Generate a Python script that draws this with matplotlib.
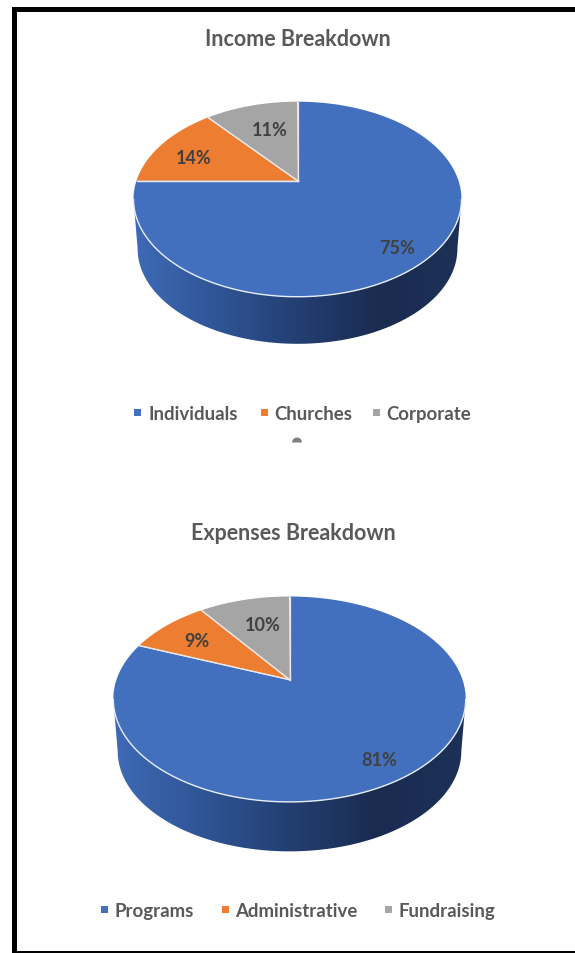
"""Income / expenses breakdown, two 3D-look pies drawn in pixel coordinates."""
import numpy as np
import matplotlib
matplotlib.use("Agg")
import matplotlib.pyplot as plt
from matplotlib.colors import LinearSegmentedColormap
from matplotlib.patches import Polygon, Rectangle, Wedge

W, H = 575, 954
plt.rcParams["font.family"] = ["Lato", "DejaVu Sans"]

income_labels = ["Individuals", "Churches", "Corporate"]
income_values = [75, 14, 11]
expense_labels = ["Programs", "Administrative", "Fundraising"]
expense_values = [81, 9, 10]

COLORS = ["#4270bf", "#ed7d31", "#a5a5a5"]
SIDE = LinearSegmentedColormap.from_list(
    "side", ["#3f6ab6", "#2f5596", "#233f72", "#1a2b50", "#1d3158"])


def project(theta, cx, cy, R, A, c=0.19):
    """Perspective view of the pie top; theta runs clockwise from 12 o'clock."""
    u, v = np.sin(theta), -np.cos(theta)
    d = 1 - c * v
    return cx + R * u / d, cy + A * v / d


def pie3d(ax, values, cx, cy, R, A, depth):
    th = np.linspace(0, 2 * np.pi, 721)
    x, y = project(th, cx, cy, R, A)
    ex, ey = (x.max() + x.min()) / 2, (y.max() + y.min()) / 2

    # side wall: front rim of the top joined to the front rim of the floor
    i0, i1 = np.argmax(x), np.argmin(x)
    xs, ys = x[i0:i1 + 1], y[i0:i1 + 1]
    xb = ex + (xs - ex) * 0.975
    yb = ey + (ys - ey) * 0.975 + depth
    side = Polygon(np.r_[np.c_[xs, ys], np.c_[xb, yb][::-1]], closed=True,
                   fc="none", ec="none")
    ax.add_patch(side)
    im = ax.imshow(np.linspace(0, 1, 256)[None, :], cmap=SIDE, aspect="auto",
                   extent=(x.min(), x.max(), y.max() + depth + 2, ey), zorder=1)
    im.set_clip_path(side)

    # top slices, clockwise from 12 o'clock
    edges = np.cumsum([0] + values) / sum(values) * 2 * np.pi
    for k, col in enumerate(COLORS):
        t = np.linspace(edges[k], edges[k + 1], 300)
        px, py = project(t, cx, cy, R, A)
        ax.add_patch(Polygon(np.r_[[[cx, cy]], np.c_[px, py]], closed=True,
                             fc=col, ec="none", zorder=2))
        ax.plot([cx, px[0]], [cy, py[0]], color="#e8e8e8", lw=0.9, zorder=3)
        ax.plot([cx, px[-1]], [cy, py[-1]], color="#e8e8e8", lw=0.9, zorder=3)
    # only the front of the rim catches the light
    ax.plot(xs, ys, color="#e8eef8", lw=1.0, zorder=3)


def legend(ax, labels, squares, text_x, y):
    for lab, sx, tx, col in zip(labels, squares, text_x, COLORS):
        ax.add_patch(Rectangle((sx - 3.5, y - 3.5), 7, 7, fc=col, ec="none"))
        ax.text(tx, y, lab, ha="left", va="center_baseline", fontsize=13.4,
                fontweight="bold", color="#595959")


def pct(ax, x, y, v):
    ax.text(x, y, f"{v}%", ha="center", va="center", fontsize=13,
            fontweight="bold", color="#404040", zorder=4)


fig = plt.figure(figsize=(W / 100, H / 100), dpi=100)
ax = fig.add_axes([0, 0, 1, 1])

pie3d(ax, income_values, 297.5, 181.7, 161, 94, 49.5)
pie3d(ax, expense_values, 289.5, 680.7, 173, 99, 52)

ax.text(297.5, 39.5, "Income Breakdown", ha="center", va="center", fontsize=15.5,
        fontweight="bold", color="#595959")
ax.text(293.5, 533.5, "Expenses Breakdown", ha="center", va="center", fontsize=15.5,
        fontweight="bold", color="#595959")

for (px, py), v in zip([(397, 249), (194, 159), (270, 131)], income_values):
    pct(ax, px, py, v)
for (px, py), v in zip([(379, 761), (197, 642), (263, 626)], expense_values):
    pct(ax, px, py, v)

legend(ax, income_labels, [137, 264, 376], [148, 274, 386], 413)
legend(ax, expense_labels, [104, 225, 388], [115, 235, 398], 910)

# clipped-off scrap of a chart handle under the first legend
ax.add_patch(Wedge((297, 443.5), 5, 180, 360, fc="#808080", ec="none"))

# frame of the screenshot: no right-hand side
ax.add_patch(Rectangle((12, 8), W - 12, 5, fc="black", ec="none", zorder=5))
ax.add_patch(Rectangle((12, 8), 5, H - 8, fc="black", ec="none", zorder=5))
ax.add_patch(Rectangle((12, 952), W - 12, 2, fc="black", ec="none", zorder=5))

ax.set_xlim(0, W)
ax.set_ylim(H, 0)
ax.axis("off")
fig.savefig("out.png", dpi=100, facecolor="white")
